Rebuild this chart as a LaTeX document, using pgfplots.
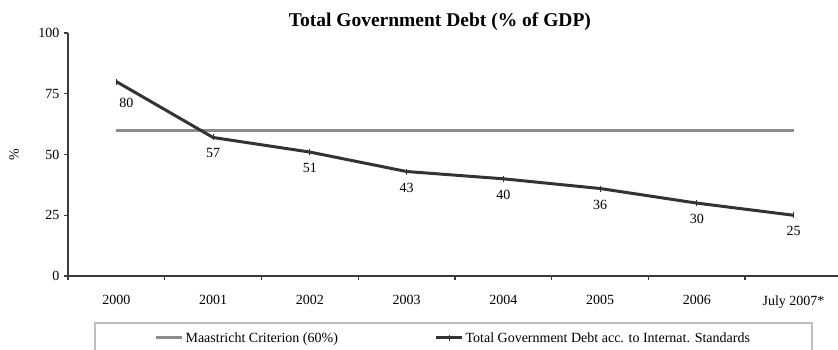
\documentclass[border=0pt]{standalone}
\usepackage{fontspec}
\setmainfont{Liberation Serif}
\usepackage{pgfplots}
\pgfplotsset{compat=1.18}
\definecolor{debtc}{HTML}{333333}
\definecolor{maac}{HTML}{8C8C8C}
\definecolor{axc}{HTML}{3A3A3A}
\begin{document}
\begin{tikzpicture}
\path[use as bounding box] (-68pt,-74pt) rectangle (770pt,276pt);
\begin{axis}[
  at={(0,0)}, anchor=south west,
  scale only axis, width=770pt, height=243pt,
  xmin=-0.5, xmax=7.46, ymin=0, ymax=100,
  clip=false,
  axis x line=bottom, axis y line=left,
  axis line style={-, draw=axc, line width=2.8pt},
  tick align=outside,
  major tick length=4pt, minor tick length=4pt,
  every tick/.style={draw=axc, line width=1.4pt},
  ytick={0,25,50,75,100},
  xtick={0,...,7},
  xticklabels={2000,2001,2002,2003,2004,2005,2006,July 2007*},
  major x tick style={draw=none},
  minor xtick={-0.5,0.5,...,6.5},
  tick label style={font=\fontsize{14}{16}\selectfont},
  /pgf/number format/assume math mode=true,
  xticklabel style={yshift=-12pt},
  yticklabel style={xshift=-1pt},
  ylabel={\%},
  ylabel style={at={(axis description cs:-0.07,0.5)}, anchor=center, font=\fontsize{14}{16}\selectfont},
  title={Total Government Debt (\% of GDP)},
  title style={at={(axis description cs:0.483,1)}, anchor=center, yshift=5pt, inner sep=0pt, font=\fontsize{19.5}{22}\selectfont\bfseries},
  legend style={at={(axis description cs:0.5006,-0.255)}, anchor=center, draw=none, fill=none,
    legend columns=2, font=\fontsize{14}{16}\selectfont,
    /tikz/every even column/.append style={column sep=95pt}},
  legend image code/.code={\draw[mark repeat=2,mark phase=2,#1] plot coordinates {(0cm,0cm) (0.45cm,0cm) (0.9cm,0cm)};},
]
\addplot[maac, line width=3pt, mark=none] coordinates {(0,60) (7,60)};
\addlegendentry{Maastricht Criterion (60\%)}
\addplot[debtc, line width=3pt, mark=|, mark size=3pt, mark options={line width=1pt},
  nodes near coords,
  every node near coord/.append style={anchor=north, yshift=-7.5pt, text=black, font=\fontsize{14}{16}\selectfont},
  coordinate style/.condition={\coordindex==0}{xshift=10pt, yshift=-5pt}]
  coordinates {(0,80) (1,57) (2,51) (3,43) (4,40) (5,36) (6,30) (7,25)};
\addlegendentry{Total Government Debt acc. to Internat. Standards}
\draw[black!25, line width=1.2pt] (axis description cs:0.0351,-0.1934) rectangle (axis description cs:0.9662,-0.317);
\end{axis}
\end{tikzpicture}
\end{document}
